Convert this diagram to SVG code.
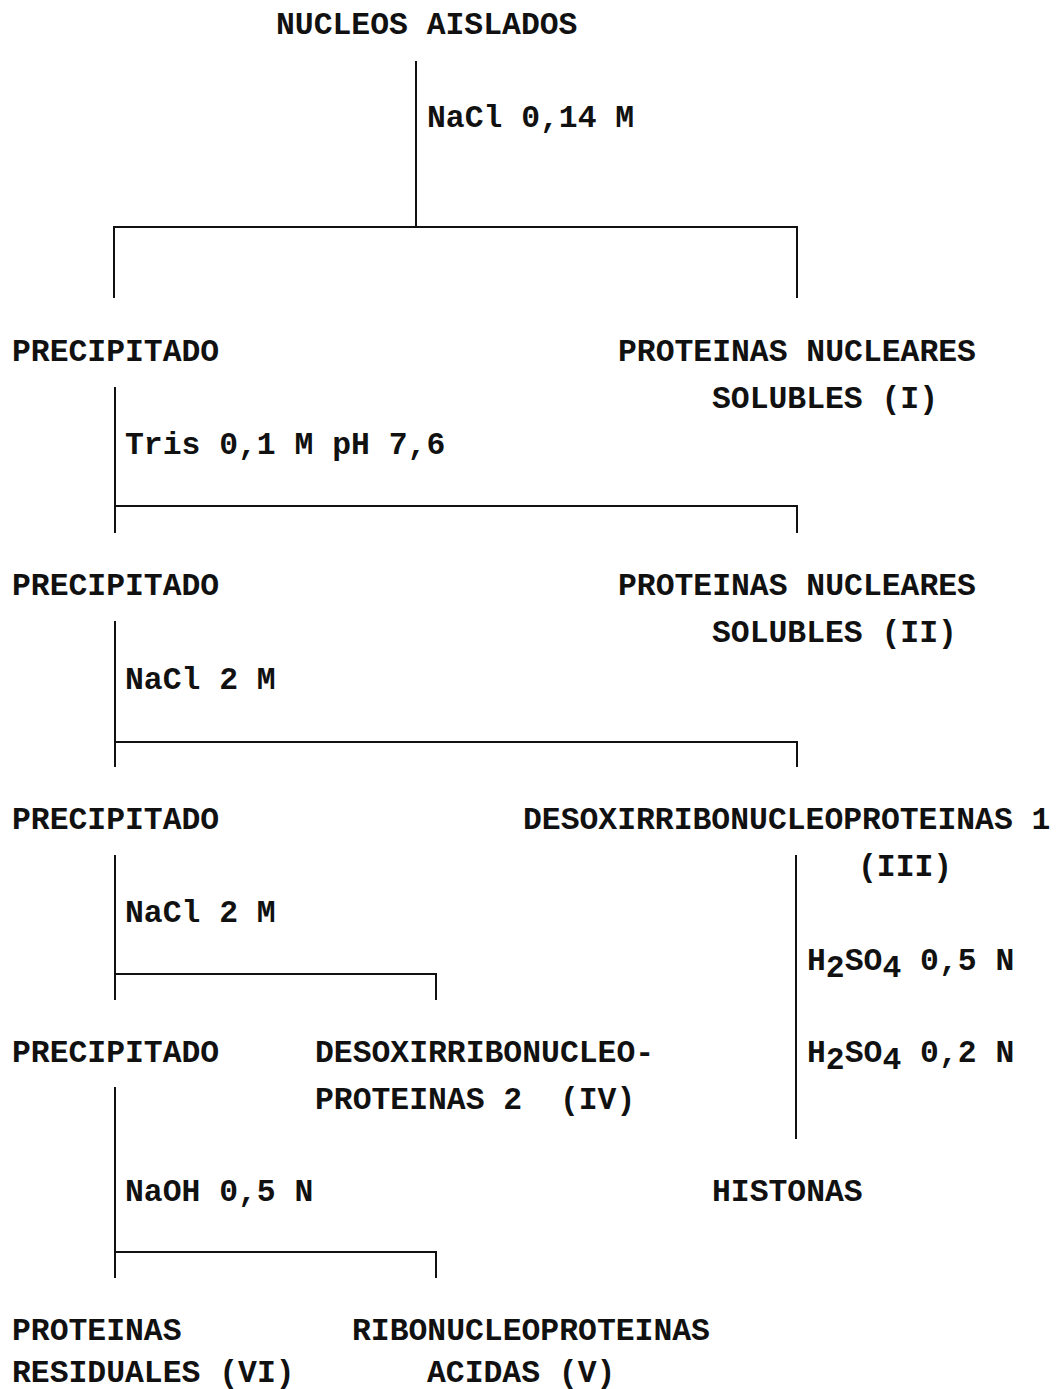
<svg xmlns="http://www.w3.org/2000/svg" width="1058" height="1389" viewBox="0 0 1058 1389">
  <style>
    text { font-family: "Liberation Mono", "Courier New", monospace; font-size: 31.4px; font-weight: bold; fill: #111; }
    .ln { stroke: #111; stroke-width: 2; fill: none; stroke-linecap: square; }
  </style>
  <rect width="1058" height="1389" fill="#fff"/>

  <!-- connectors -->
  <g id="connectors">
    <path class="ln" d="M416 62 V227 M114 297 V227 H797 V297"/>
    <path class="ln" d="M115 388 V532 M115 506 H797 V532"/>
    <path class="ln" d="M115 622 V766 M115 742 H797 V766"/>
    <path class="ln" d="M115 856 V999 M115 974 H436 V999"/>
    <path class="ln" d="M115 1088 V1277 M115 1252 H436 V1277"/>
    <path class="ln" d="M796 856 V1138"/>
  </g>

  <!-- reagent labels -->
  <g id="reagents">
    <text x="427" y="127">NaCl 0,14 M</text>
    <text x="125" y="454">Tris 0,1 M pH 7,6</text>
    <text x="125" y="689">NaCl 2 M</text>
    <text x="125" y="922">NaCl 2 M</text>
    <text x="125" y="1201">NaOH 0,5 N</text>
    <text x="807" y="970">H<tspan dy="7">2</tspan><tspan dy="-7">SO</tspan><tspan dy="7">4</tspan><tspan dy="-7"> 0,5 N</tspan></text>
    <text x="807" y="1062">H<tspan dy="7">2</tspan><tspan dy="-7">SO</tspan><tspan dy="7">4</tspan><tspan dy="-7"> 0,2 N</tspan></text>
  </g>

  <!-- fractions -->
  <g id="n-nucleos"><text x="276" y="34">NUCLEOS AISLADOS</text></g>
  <g id="n-precipitado-1"><text x="12" y="361">PRECIPITADO</text></g>
  <g id="n-proteinas-I"><text x="618" y="361">PROTEINAS NUCLEARES</text><text x="712" y="408">SOLUBLES (I)</text></g>
  <g id="n-precipitado-2"><text x="12" y="595">PRECIPITADO</text></g>
  <g id="n-proteinas-II"><text x="618" y="595">PROTEINAS NUCLEARES</text><text x="712" y="642">SOLUBLES (II)</text></g>
  <g id="n-precipitado-3"><text x="12" y="829">PRECIPITADO</text></g>
  <g id="n-dnp-III"><text x="523" y="829">DESOXIRRIBONUCLEOPROTEINAS 1</text><text x="858" y="876">(III)</text></g>
  <g id="n-precipitado-4"><text x="12" y="1062">PRECIPITADO</text></g>
  <g id="n-dnp-IV"><text x="315" y="1062">DESOXIRRIBONUCLEO-</text><text x="315" y="1109" xml:space="preserve">PROTEINAS 2  (IV)</text></g>
  <g id="n-histonas"><text x="712" y="1201">HISTONAS</text></g>
  <g id="n-residuales-VI"><text x="12" y="1340">PROTEINAS</text><text x="12" y="1382">RESIDUALES (VI)</text></g>
  <g id="n-rnp-V"><text x="352" y="1340">RIBONUCLEOPROTEINAS</text><text x="427" y="1382">ACIDAS (V)</text></g>
</svg>
